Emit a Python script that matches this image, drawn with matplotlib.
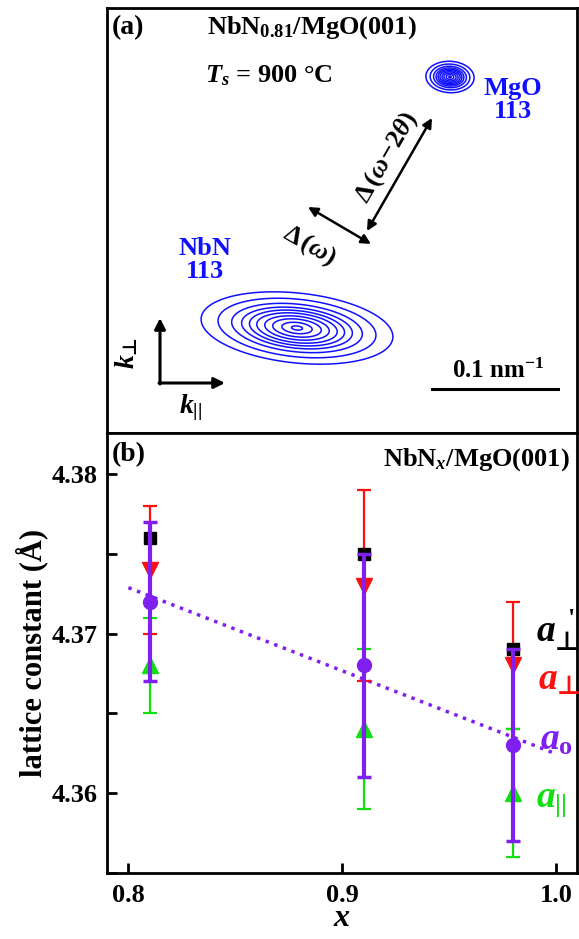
import matplotlib
matplotlib.use("Agg")
import matplotlib.pyplot as plt
import numpy as np

plt.rcParams['font.family'] = ['Liberation Serif', 'DejaVu Serif']
plt.rcParams['font.weight'] = 'bold'
plt.rcParams['axes.labelweight'] = 'bold'
plt.rcParams['mathtext.fontset'] = 'custom'
plt.rcParams['mathtext.rm'] = 'Liberation Serif:bold'
plt.rcParams['mathtext.it'] = 'Liberation Serif:italic:bold'
plt.rcParams['mathtext.bf'] = 'Liberation Serif:bold'
plt.rcParams['mathtext.sf'] = 'DejaVu Sans'
plt.rcParams['mathtext.fallback'] = 'stix'

# ---- panel (b) data ----
x_comp = [0.81, 0.91, 0.98]
a_perp_prime = [4.376, 4.375, 4.369]
a_perp = [4.374, 4.373, 4.368]
a_perp_err = [0.004, 0.006, 0.004]
a_o = [4.372, 4.368, 4.363]
a_o_err = [0.005, 0.007, 0.006]
a_par = [4.368, 4.364, 4.360]
a_par_err = [0.003, 0.005, 0.004]
fit_range = [0.80, 1.00]

# ---- panel (a) peaks (map coordinates, y downwards) ----
nbn_center = (190, 320)
nbn_sigma = (40, 14.5)
nbn_tilt = 6          # degrees
mgo_center = (343, 69)
mgo_sigma = (10, 6.5)
mgo_tilt = 3
peak_levels = [0.055, 0.14, 0.26, 0.38, 0.49, 0.6, 0.72, 0.83, 0.93, 0.99]

blue = '#1010ff'
purple = '#8020f0'
green = '#10e010'
red = '#ff1010'
PERP = '\u22a5'

fig = plt.figure(figsize=(5.79, 9.39), dpi=100)

# ================= panel (a) =================
axa = fig.add_axes([107 / 579, 506 / 939, 470 / 579, 425 / 939])
axa.set_xlim(0, 470)
axa.set_ylim(425, 0)
axa.set_xticks([])
axa.set_yticks([])
for s in axa.spines.values():
    s.set_linewidth(2)

gx, gy = np.meshgrid(np.arange(0, 471, 1.0), np.arange(0, 426, 1.0))


def peak(c, sig, tilt):
    t = np.radians(tilt)
    dx, dy = gx - c[0], gy - c[1]
    u = dx * np.cos(t) + dy * np.sin(t)
    v = -dx * np.sin(t) + dy * np.cos(t)
    return np.exp(-0.5 * ((u / sig[0]) ** 2 + (v / sig[1]) ** 2))


axa.contour(gx, gy, peak(nbn_center, nbn_sigma, nbn_tilt), levels=peak_levels,
            colors=blue, linewidths=1.1)
axa.contour(gx, gy, peak(mgo_center, mgo_sigma, mgo_tilt), levels=peak_levels,
            colors=blue, linewidths=1.1)

axa.text(5, 20, '(a)', fontsize=20, ha='left', va='center')
axa.text(205, 20, r'NbN$_{\mathbf{0.81}}$/MgO(001)', fontsize=19, ha='center', va='center')
axa.text(98, 68, r'$T_s$ = 900 °C', fontsize=19, ha='left', va='center')
axa.text(406, 92, 'MgO\n113', fontsize=19, color=blue, ha='center', va='center',
         linespacing=0.95)
axa.text(98, 252, 'NbN\n113', fontsize=19, color=blue, ha='center', va='center',
         linespacing=0.95)

arr = dict(arrowstyle='<|-|>', color='black', lw=1.8, mutation_scale=14,
           shrinkA=0, shrinkB=0)
axa.annotate('', xy=(325, 110), xytext=(260, 223), arrowprops=arr)
axa.annotate('', xy=(201, 199), xytext=(264, 236), arrowprops=arr)
axa.text(280, 150, r'$\Delta\,(\omega\!-\!2\theta)$', fontsize=19, rotation=60,
         ha='center', va='center')
axa.text(203, 238, r'$\Delta\,(\omega)$', fontsize=19, rotation=-30,
         ha='center', va='center')

arr1 = dict(arrowstyle='-|>', color='black', lw=2.2, mutation_scale=16,
            shrinkA=0, shrinkB=0)
axa.annotate('', xy=(53, 310), xytext=(53, 376), arrowprops=arr1)
axa.annotate('', xy=(118, 375), xytext=(52, 375), arrowprops=arr1)
axa.text(20, 345, r'$k_{\mathsf{%s}}$' % PERP, fontsize=20, rotation=90,
         ha='center', va='center')
axa.text(84, 400, r'$k_{||}$', fontsize=20, ha='center', va='center')

axa.plot([325, 451], [381, 381], color='black', lw=2.2)
axa.text(391, 363, r'0.1 nm$^{\mathbf{-1}}$', fontsize=18, ha='center', va='center')

# ================= panel (b) =================
axb = fig.add_axes([107 / 579, 66 / 939, 470 / 579, 440 / 939])
for s in axb.spines.values():
    s.set_linewidth(2)

cap = 5
axb.errorbar(x_comp, a_perp, yerr=a_perp_err, fmt='v', color=red, ms=11,
             elinewidth=1.6, capsize=cap, capthick=1.6, zorder=3)
axb.errorbar(x_comp, a_par, yerr=a_par_err, fmt='^', color=green, ms=11,
             elinewidth=1.6, capsize=cap, capthick=1.6, zorder=3)
axb.plot(x_comp, a_perp_prime, 's', color='black', ms=9, zorder=4)
axb.errorbar(x_comp, a_o, yerr=a_o_err, fmt='o', color=purple, ms=10,
             elinewidth=3, capsize=cap, capthick=2.5, zorder=5)

k, b = np.polyfit(x_comp, a_o, 1)
xf = np.array(fit_range)
axb.plot(xf, k * xf + b, ':', color=purple, lw=2.5, zorder=2)

axb.set_xlim(0.79, 1.0098)
axb.set_ylim(4.355, 4.38256)
axb.set_xticks([0.8, 0.9, 1.0])
axb.set_xticklabels(['0.8', '0.9', '1.0'])
axb.set_yticks([4.36, 4.37, 4.38])
axb.set_yticklabels(['4.36', '4.37', '4.38'])
axb.set_yticks([4.355, 4.365, 4.375], minor=True)
axb.tick_params(axis='both', which='both', direction='in', length=7, width=2,
                labelsize=19, top=False, right=False)
axb.tick_params(axis='x', pad=8)
axb.tick_params(axis='y', pad=7)
axb.set_xlabel(r'$x$', fontsize=23, labelpad=-2)
axb.set_ylabel('lattice constant (Å)', fontsize=22, labelpad=2)

axb.text(0.011, 0.95, '(b)', transform=axb.transAxes, fontsize=20, ha='left', va='center')
axb.text(0.985, 0.94, r'NbN$_x$/MgO(001)', transform=axb.transAxes, fontsize=19,
         ha='right', va='center')

axb.text(0.9905, 4.3702, r"$a_{\mathsf{%s}}^{\;\;\text{'}}$" % PERP, fontsize=27,
         color='black', ha='left', va='center', clip_on=False)
axb.text(0.9915, 4.3671, r"$a_{\mathsf{%s}}$" % PERP, fontsize=27, color=red,
         ha='left', va='center', clip_on=False)
axb.text(0.9925, 4.3633, r"$a_{\mathrm{o}}$", fontsize=27, color=purple,
         ha='left', va='center', clip_on=False)
axb.text(0.9905, 4.3595, r"$a_{||}$", fontsize=27, color=green,
         ha='left', va='center', clip_on=False)

fig.savefig('out.png', dpi=100)
